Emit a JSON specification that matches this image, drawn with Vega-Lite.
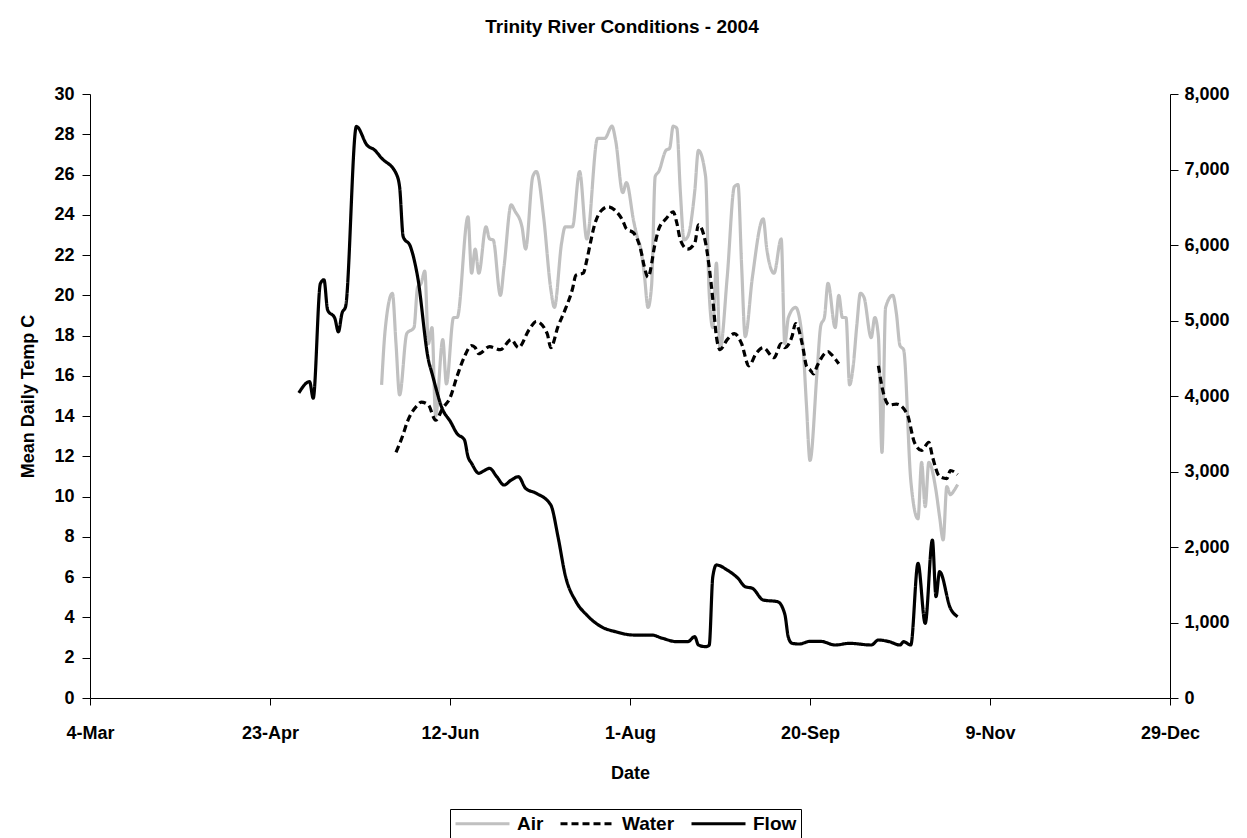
{
  "$schema": "https://vega.github.io/schema/vega-lite/v6.json",
  "width": 1080,
  "height": 604,
  "autosize": {"type": "none"},
  "padding": {"left": 90, "top": 94, "right": 77, "bottom": 140},
  "background": "white",
  "title": {"text": "Trinity River Conditions - 2004", "font": "Liberation Sans", "fontSize": 19, "fontWeight": "bold", "color": "black", "offset": 48, "dx": -8},
  "config": {
    "view": {"stroke": null},
    "axis": {"labelFont": "Liberation Sans", "titleFont": "Liberation Sans", "labelFontSize": 18, "titleFontSize": 18, "labelFontWeight": "bold", "titleFontWeight": "bold", "labelColor": "black", "titleColor": "black", "domainColor": "black", "tickColor": "black", "domainWidth": 1, "tickWidth": 1, "grid": false},
    "legend": {"labelFont": "Liberation Sans", "labelFontSize": 19, "labelFontWeight": "bold", "labelColor": "black"}
  },
  "data": {"values": [
    {"date":"2004-05-24","series":"Air","value":15.55},{"date":"2004-05-25","series":"Air","value":18.3},{"date":"2004-05-27","series":"Air","value":20.1},{"date":"2004-05-28","series":"Air","value":17.6},{"date":"2004-05-29","series":"Air","value":15.05},{"date":"2004-05-31","series":"Air","value":18.1},{"date":"2004-06-02","series":"Air","value":18.4},{"date":"2004-06-03","series":"Air","value":20.4},{"date":"2004-06-04","series":"Air","value":20.6},{"date":"2004-06-05","series":"Air","value":21.2},{"date":"2004-06-06","series":"Air","value":17.6},{"date":"2004-06-07","series":"Air","value":18.4},{"date":"2004-06-08","series":"Air","value":14.0},{"date":"2004-06-10","series":"Air","value":17.8},{"date":"2004-06-11","series":"Air","value":15.6},{"date":"2004-06-13","series":"Air","value":18.9},{"date":"2004-06-14","series":"Air","value":18.9},{"date":"2004-06-17","series":"Air","value":23.9},{"date":"2004-06-18","series":"Air","value":21.1},{"date":"2004-06-19","series":"Air","value":22.3},{"date":"2004-06-20","series":"Air","value":21.1},{"date":"2004-06-22","series":"Air","value":23.4},{"date":"2004-06-23","series":"Air","value":22.8},{"date":"2004-06-24","series":"Air","value":22.75},{"date":"2004-06-26","series":"Air","value":20.0},{"date":"2004-06-27","series":"Air","value":21.4},{"date":"2004-06-29","series":"Air","value":24.5},{"date":"2004-06-30","series":"Air","value":24.2},{"date":"2004-07-02","series":"Air","value":23.4},{"date":"2004-07-03","series":"Air","value":22.3},{"date":"2004-07-05","series":"Air","value":25.9},{"date":"2004-07-06","series":"Air","value":26.15},{"date":"2004-07-08","series":"Air","value":23.9},{"date":"2004-07-10","series":"Air","value":20.3},{"date":"2004-07-11","series":"Air","value":19.4},{"date":"2004-07-13","series":"Air","value":22.6},{"date":"2004-07-14","series":"Air","value":23.4},{"date":"2004-07-16","series":"Air","value":23.4},{"date":"2004-07-18","series":"Air","value":26.15},{"date":"2004-07-20","series":"Air","value":22.8},{"date":"2004-07-23","series":"Air","value":27.8},{"date":"2004-07-24","series":"Air","value":27.8},{"date":"2004-07-25","series":"Air","value":27.8},{"date":"2004-07-27","series":"Air","value":28.4},{"date":"2004-07-28","series":"Air","value":27.7},{"date":"2004-07-30","series":"Air","value":25.1},{"date":"2004-07-31","series":"Air","value":25.6},{"date":"2004-08-02","series":"Air","value":23.7},{"date":"2004-08-03","series":"Air","value":22.9},{"date":"2004-08-04","series":"Air","value":22.3},{"date":"2004-08-05","series":"Air","value":21.0},{"date":"2004-08-06","series":"Air","value":19.4},{"date":"2004-08-07","series":"Air","value":20.5},{"date":"2004-08-08","series":"Air","value":25.9},{"date":"2004-08-09","series":"Air","value":26.15},{"date":"2004-08-11","series":"Air","value":27.2},{"date":"2004-08-12","series":"Air","value":27.3},{"date":"2004-08-13","series":"Air","value":28.4},{"date":"2004-08-14","series":"Air","value":28.3},{"date":"2004-08-15","series":"Air","value":25.1},{"date":"2004-08-16","series":"Air","value":22.75},{"date":"2004-08-17","series":"Air","value":22.9},{"date":"2004-08-19","series":"Air","value":25.2},{"date":"2004-08-20","series":"Air","value":27.2},{"date":"2004-08-22","series":"Air","value":25.9},{"date":"2004-08-23","series":"Air","value":20.1},{"date":"2004-08-24","series":"Air","value":18.4},{"date":"2004-08-25","series":"Air","value":21.6},{"date":"2004-08-26","series":"Air","value":17.3},{"date":"2004-08-28","series":"Air","value":20.9},{"date":"2004-08-30","series":"Air","value":25.4},{"date":"2004-08-31","series":"Air","value":25.5},{"date":"2004-09-01","series":"Air","value":21.5},{"date":"2004-09-02","series":"Air","value":17.95},{"date":"2004-09-04","series":"Air","value":20.9},{"date":"2004-09-07","series":"Air","value":23.8},{"date":"2004-09-08","series":"Air","value":22.3},{"date":"2004-09-10","series":"Air","value":21.1},{"date":"2004-09-12","series":"Air","value":22.8},{"date":"2004-09-13","series":"Air","value":17.6},{"date":"2004-09-14","series":"Air","value":18.9},{"date":"2004-09-16","series":"Air","value":19.4},{"date":"2004-09-18","series":"Air","value":17.6},{"date":"2004-09-19","series":"Air","value":14.6},{"date":"2004-09-20","series":"Air","value":11.8},{"date":"2004-09-22","series":"Air","value":16.3},{"date":"2004-09-23","series":"Air","value":18.5},{"date":"2004-09-24","series":"Air","value":18.9},{"date":"2004-09-25","series":"Air","value":20.6},{"date":"2004-09-27","series":"Air","value":18.4},{"date":"2004-09-28","series":"Air","value":20.0},{"date":"2004-09-29","series":"Air","value":18.9},{"date":"2004-09-30","series":"Air","value":18.9},{"date":"2004-10-01","series":"Air","value":15.55},{"date":"2004-10-02","series":"Air","value":16.5},{"date":"2004-10-03","series":"Air","value":18.5},{"date":"2004-10-04","series":"Air","value":20.1},{"date":"2004-10-05","series":"Air","value":19.9},{"date":"2004-10-07","series":"Air","value":17.9},{"date":"2004-10-08","series":"Air","value":18.9},{"date":"2004-10-09","series":"Air","value":17.95},{"date":"2004-10-10","series":"Air","value":12.2},{"date":"2004-10-11","series":"Air","value":19.4},{"date":"2004-10-13","series":"Air","value":20.0},{"date":"2004-10-14","series":"Air","value":19.1},{"date":"2004-10-15","series":"Air","value":17.5},{"date":"2004-10-16","series":"Air","value":17.3},{"date":"2004-10-18","series":"Air","value":10.8},{"date":"2004-10-20","series":"Air","value":8.9},{"date":"2004-10-21","series":"Air","value":11.7},{"date":"2004-10-22","series":"Air","value":9.5},{"date":"2004-10-23","series":"Air","value":11.7},{"date":"2004-10-25","series":"Air","value":10.3},{"date":"2004-10-26","series":"Air","value":9.0},{"date":"2004-10-27","series":"Air","value":7.85},{"date":"2004-10-28","series":"Air","value":10.5},{"date":"2004-10-29","series":"Air","value":10.1},{"date":"2004-10-30","series":"Air","value":10.3},{"date":"2004-10-31","series":"Air","value":10.6},
    {"date":"2004-05-28","series":"Water","value":12.2},{"date":"2004-05-30","series":"Water","value":13.1},{"date":"2004-05-31","series":"Water","value":13.65},{"date":"2004-06-03","series":"Water","value":14.55},{"date":"2004-06-04","series":"Water","value":14.7},{"date":"2004-06-06","series":"Water","value":14.55},{"date":"2004-06-08","series":"Water","value":13.8},{"date":"2004-06-10","series":"Water","value":14.4},{"date":"2004-06-12","series":"Water","value":14.9},{"date":"2004-06-14","series":"Water","value":16.0},{"date":"2004-06-16","series":"Water","value":16.95},{"date":"2004-06-18","series":"Water","value":17.5},{"date":"2004-06-19","series":"Water","value":17.4},{"date":"2004-06-20","series":"Water","value":17.1},{"date":"2004-06-23","series":"Water","value":17.45},{"date":"2004-06-26","series":"Water","value":17.3},{"date":"2004-06-29","series":"Water","value":17.8},{"date":"2004-07-01","series":"Water","value":17.4},{"date":"2004-07-04","series":"Water","value":18.3},{"date":"2004-07-06","series":"Water","value":18.7},{"date":"2004-07-09","series":"Water","value":18.1},{"date":"2004-07-10","series":"Water","value":17.4},{"date":"2004-07-12","series":"Water","value":18.45},{"date":"2004-07-14","series":"Water","value":19.3},{"date":"2004-07-16","series":"Water","value":20.3},{"date":"2004-07-17","series":"Water","value":21.0},{"date":"2004-07-19","series":"Water","value":21.1},{"date":"2004-07-20","series":"Water","value":21.75},{"date":"2004-07-21","series":"Water","value":22.6},{"date":"2004-07-22","series":"Water","value":23.4},{"date":"2004-07-24","series":"Water","value":24.2},{"date":"2004-07-26","series":"Water","value":24.4},{"date":"2004-07-28","series":"Water","value":24.2},{"date":"2004-07-30","series":"Water","value":23.7},{"date":"2004-07-31","series":"Water","value":23.3},{"date":"2004-08-02","series":"Water","value":23.1},{"date":"2004-08-04","series":"Water","value":22.25},{"date":"2004-08-05","series":"Water","value":21.4},{"date":"2004-08-06","series":"Water","value":20.9},{"date":"2004-08-08","series":"Water","value":22.6},{"date":"2004-08-09","series":"Water","value":23.3},{"date":"2004-08-11","series":"Water","value":23.8},{"date":"2004-08-13","series":"Water","value":24.15},{"date":"2004-08-14","series":"Water","value":23.6},{"date":"2004-08-15","series":"Water","value":22.75},{"date":"2004-08-17","series":"Water","value":22.3},{"date":"2004-08-19","series":"Water","value":22.6},{"date":"2004-08-20","series":"Water","value":23.5},{"date":"2004-08-22","series":"Water","value":22.6},{"date":"2004-08-23","series":"Water","value":21.4},{"date":"2004-08-24","series":"Water","value":19.8},{"date":"2004-08-25","series":"Water","value":17.95},{"date":"2004-08-26","series":"Water","value":17.3},{"date":"2004-08-28","series":"Water","value":17.8},{"date":"2004-08-30","series":"Water","value":18.1},{"date":"2004-09-01","series":"Water","value":17.6},{"date":"2004-09-03","series":"Water","value":16.5},{"date":"2004-09-05","series":"Water","value":17.1},{"date":"2004-09-07","series":"Water","value":17.4},{"date":"2004-09-10","series":"Water","value":16.9},{"date":"2004-09-12","series":"Water","value":17.6},{"date":"2004-09-13","series":"Water","value":17.4},{"date":"2004-09-15","series":"Water","value":17.95},{"date":"2004-09-16","series":"Water","value":18.6},{"date":"2004-09-18","series":"Water","value":17.45},{"date":"2004-09-19","series":"Water","value":16.5},{"date":"2004-09-20","series":"Water","value":16.3},{"date":"2004-09-21","series":"Water","value":16.1},{"date":"2004-09-22","series":"Water","value":16.5},{"date":"2004-09-25","series":"Water","value":17.2},{"date":"2004-09-26","series":"Water","value":17.05},{"date":"2004-09-28","series":"Water","value":16.6},{"date":"2004-10-03","series":"Water","value":null},{"date":"2004-10-09","series":"Water","value":16.5},{"date":"2004-10-10","series":"Water","value":15.45},{"date":"2004-10-12","series":"Water","value":14.55},{"date":"2004-10-14","series":"Water","value":14.6},{"date":"2004-10-17","series":"Water","value":14.1},{"date":"2004-10-19","series":"Water","value":12.7},{"date":"2004-10-21","series":"Water","value":12.3},{"date":"2004-10-23","series":"Water","value":12.7},{"date":"2004-10-24","series":"Water","value":12.0},{"date":"2004-10-26","series":"Water","value":11.0},{"date":"2004-10-28","series":"Water","value":10.9},{"date":"2004-10-29","series":"Water","value":11.3},{"date":"2004-10-31","series":"Water","value":11.1},
    {"date":"2004-05-01","series":"Flow","value":4040},{"date":"2004-05-04","series":"Flow","value":4190},{"date":"2004-05-05","series":"Flow","value":3970},{"date":"2004-05-07","series":"Flow","value":5490},{"date":"2004-05-08","series":"Flow","value":5540},{"date":"2004-05-09","series":"Flow","value":5140},{"date":"2004-05-11","series":"Flow","value":5030},{"date":"2004-05-12","series":"Flow","value":4850},{"date":"2004-05-13","series":"Flow","value":5095},{"date":"2004-05-14","series":"Flow","value":5185},{"date":"2004-05-17","series":"Flow","value":7570},{"date":"2004-05-20","series":"Flow","value":7320},{"date":"2004-05-22","series":"Flow","value":7260},{"date":"2004-05-24","series":"Flow","value":7150},{"date":"2004-05-28","series":"Flow","value":6950},{"date":"2004-05-29","series":"Flow","value":6770},{"date":"2004-05-30","series":"Flow","value":6110},{"date":"2004-06-01","series":"Flow","value":5980},{"date":"2004-06-03","series":"Flow","value":5580},{"date":"2004-06-06","series":"Flow","value":4480},{"date":"2004-06-07","series":"Flow","value":4300},{"date":"2004-06-10","series":"Flow","value":3815},{"date":"2004-06-12","series":"Flow","value":3670},{"date":"2004-06-14","series":"Flow","value":3500},{"date":"2004-06-16","series":"Flow","value":3420},{"date":"2004-06-17","series":"Flow","value":3196},{"date":"2004-06-18","series":"Flow","value":3108},{"date":"2004-06-20","series":"Flow","value":2976},{"date":"2004-06-21","series":"Flow","value":2998},{"date":"2004-06-23","series":"Flow","value":3042},{"date":"2004-06-25","series":"Flow","value":2931},{"date":"2004-06-27","series":"Flow","value":2821},{"date":"2004-06-29","series":"Flow","value":2887},{"date":"2004-07-01","series":"Flow","value":2931},{"date":"2004-07-03","series":"Flow","value":2777},{"date":"2004-07-06","series":"Flow","value":2711},{"date":"2004-07-10","series":"Flow","value":2556},{"date":"2004-07-12","series":"Flow","value":2136},{"date":"2004-07-14","series":"Flow","value":1629},{"date":"2004-07-17","series":"Flow","value":1276},{"date":"2004-07-20","series":"Flow","value":1099},{"date":"2004-07-24","series":"Flow","value":944},{"date":"2004-07-28","series":"Flow","value":878},{"date":"2004-08-02","series":"Flow","value":834},{"date":"2004-08-07","series":"Flow","value":834},{"date":"2004-08-10","series":"Flow","value":791},{"date":"2004-08-14","series":"Flow","value":746},{"date":"2004-08-17","series":"Flow","value":746},{"date":"2004-08-19","series":"Flow","value":812},{"date":"2004-08-20","series":"Flow","value":702},{"date":"2004-08-22","series":"Flow","value":680},{"date":"2004-08-23","series":"Flow","value":700},{"date":"2004-08-24","series":"Flow","value":1607},{"date":"2004-08-25","series":"Flow","value":1762},{"date":"2004-08-28","series":"Flow","value":1695},{"date":"2004-08-31","series":"Flow","value":1585},{"date":"2004-09-02","series":"Flow","value":1474},{"date":"2004-09-04","series":"Flow","value":1453},{"date":"2004-09-07","series":"Flow","value":1298},{"date":"2004-09-11","series":"Flow","value":1276},{"date":"2004-09-13","series":"Flow","value":1110},{"date":"2004-09-14","series":"Flow","value":800},{"date":"2004-09-15","series":"Flow","value":725},{"date":"2004-09-17","series":"Flow","value":715},{"date":"2004-09-20","series":"Flow","value":750},{"date":"2004-09-23","series":"Flow","value":750},{"date":"2004-09-27","series":"Flow","value":702},{"date":"2004-10-01","series":"Flow","value":724},{"date":"2004-10-07","series":"Flow","value":702},{"date":"2004-10-09","series":"Flow","value":768},{"date":"2004-10-12","series":"Flow","value":746},{"date":"2004-10-15","series":"Flow","value":702},{"date":"2004-10-16","series":"Flow","value":746},{"date":"2004-10-18","series":"Flow","value":702},{"date":"2004-10-20","series":"Flow","value":1784},{"date":"2004-10-22","series":"Flow","value":989},{"date":"2004-10-24","series":"Flow","value":2093},{"date":"2004-10-25","series":"Flow","value":1342},{"date":"2004-10-26","series":"Flow","value":1673},{"date":"2004-10-29","series":"Flow","value":1188},{"date":"2004-10-31","series":"Flow","value":1077}
  ]},
  "encoding": {
    "x": {
      "field": "date", "type": "temporal",
      "scale": {"type": "utc", "domain": [{"year": 2004, "month": 3, "date": 4, "utc": true}, {"year": 2004, "month": 12, "date": 29, "utc": true}]},
      "axis": {
        "title": "Date", "format": "%-d-%b", "tickSize": 7, "labelPadding": 19, "titlePadding": 22,
        "values": [
          {"year": 2004, "month": 3, "date": 4, "utc": true},
          {"year": 2004, "month": 4, "date": 23, "utc": true},
          {"year": 2004, "month": 6, "date": 12, "utc": true},
          {"year": 2004, "month": 8, "date": 1, "utc": true},
          {"year": 2004, "month": 9, "date": 20, "utc": true},
          {"year": 2004, "month": 11, "date": 9, "utc": true},
          {"year": 2004, "month": 12, "date": 29, "utc": true}
        ],
        "labelOverlap": false, "labelFlush": false
      }
    }
  },
  "layer": [
    {
      "transform": [{"filter": "datum.series !== 'Flow'"}],
      "mark": {"type": "line", "strokeWidth": 3.2, "interpolate": "monotone", "invalid": "break-paths-show-domains"},
      "encoding": {
        "y": {"field": "value", "type": "quantitative", "scale": {"domain": [0, 30], "nice": false},
              "axis": {"title": "Mean Daily Temp C", "values": [0,2,4,6,8,10,12,14,16,18,20,22,24,26,28,30], "tickSize": 8, "labelPadding": 8, "titlePadding": 16}},
        "color": {"field": "series", "type": "nominal",
                  "scale": {"domain": ["Air", "Water", "Flow"], "range": ["#c0c0c0", "#000000", "#000000"]},
                  "legend": {"title": null, "orient": "none", "legendX": 360, "legendY": 715, "direction": "horizontal", "symbolType": "M-1,0H5", "symbolSize": 324, "symbolStrokeWidth": 3, "columnPadding": 10, "labelOffset": 42, "strokeColor": "black", "fillColor": "white", "padding": 4}},
        "strokeDash": {"field": "series", "type": "nominal",
                       "scale": {"domain": ["Air", "Water", "Flow"], "range": [[1, 0], [7, 4], [1, 0]]}}
      }
    },
    {
      "transform": [{"filter": "datum.series === 'Flow'"}],
      "mark": {"type": "line", "strokeWidth": 3.2, "interpolate": "monotone"},
      "encoding": {
        "y": {"field": "value", "type": "quantitative", "scale": {"domain": [0, 8000], "nice": false},
              "axis": {"orient": "right", "title": null, "format": ",.0f", "values": [0,1000,2000,3000,4000,5000,6000,7000,8000], "tickSize": 8, "labelPadding": 6}},
        "color": {"field": "series", "type": "nominal"},
        "strokeDash": {"field": "series", "type": "nominal"}
      }
    }
  ],
  "resolve": {"scale": {"y": "independent"}}
}
